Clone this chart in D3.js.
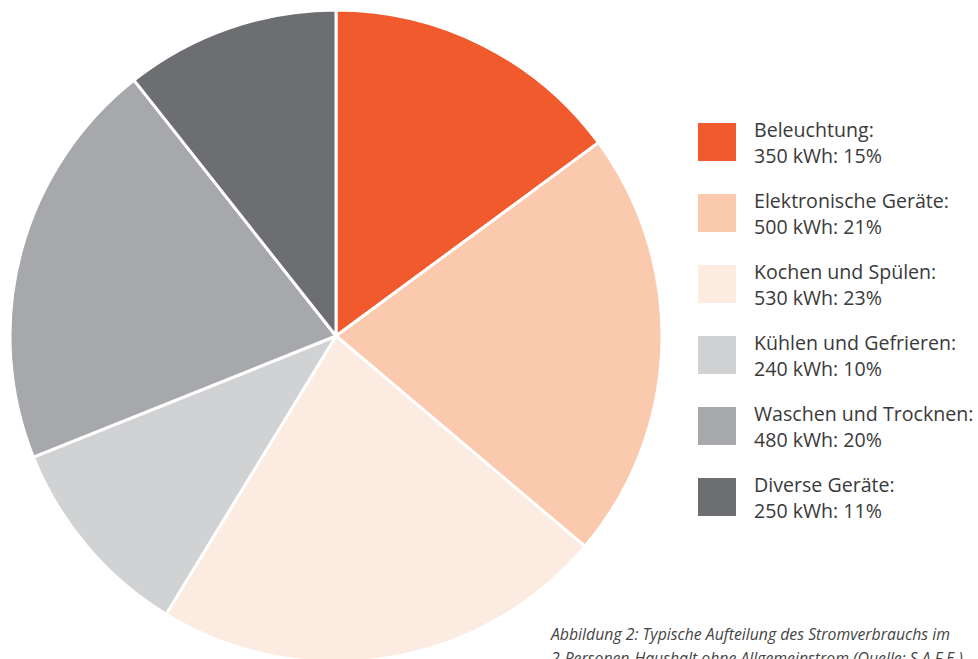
<!DOCTYPE html>
<html>
<head>
<meta charset="utf-8">
<script src="https://cdn.jsdelivr.net/npm/d3@7"></script>
<style>
  body { margin: 0; background: #fff; }
  svg { display: block; }
</style>
</head>
<body>
<div id="chart"></div>
<script>
const width = 978, height = 659;

// data
const categories = ["Beleuchtung", "Elektronische Geräte", "Kochen und Spülen", "Kühlen und Gefrieren", "Waschen und Trocknen", "Diverse Geräte"];
const kwh = [350, 500, 530, 240, 480, 250];
const percents = [15, 21, 23, 10, 20, 11];
const colors = ["#f15a2c", "#fbc9ae", "#fcebe1", "#d1d2d4", "#a7a8ac", "#6d6e72"];
const captionLines = ["Abbildung 2: Typische Aufteilung des Stromverbrauchs im", "2-Personen-Haushalt ohne Allgemeinstrom (Quelle: S.A.F.E.)"];

const data = categories.map((c, i) => ({ name: c, value: kwh[i], pct: percents[i], color: colors[i] }));

const cx = 336, cy = 336, radius = 326;

const svg = d3.select("#chart")
  .append("svg")
  .attr("width", width)
  .attr("height", height)
  .attr("viewBox", [0, 0, width, height]);

const pie = d3.pie().sort(null).value(d => d.value);
const arc = d3.arc().innerRadius(0).outerRadius(radius);

svg.append("g")
  .attr("transform", `translate(${cx},${cy})`)
  .selectAll("path")
  .data(pie(data))
  .join("path")
  .attr("d", arc)
  .attr("fill", d => d.data.color)
  .attr("stroke", "#fff")
  .attr("stroke-width", 3)
  .attr("stroke-linejoin", "round");

// legend
const legend = svg.append("g")
  .attr("font-family", "'Open Sans', 'Noto Sans', sans-serif")
  .attr("font-size", 19.6)
  .attr("fill", "#3a3a3a");

const item = legend.selectAll("g")
  .data(data)
  .join("g")
  .attr("transform", (d, i) => `translate(698,${123 + i * 71})`);

item.append("rect")
  .attr("width", 38)
  .attr("height", 38)
  .attr("fill", d => d.color);

item.append("text")
  .attr("x", 56)
  .attr("y", 14)
  .text(d => d.name + ":");

item.append("text")
  .attr("x", 56)
  .attr("y", 40)
  .text(d => `${d.value} kWh: ${d.pct}%`);

// caption
svg.append("g")
  .attr("font-family", "'Open Sans', 'Noto Sans', sans-serif")
  .attr("font-size", 15.8)
  .attr("font-style", "italic")
  .attr("fill", "#444")
  .selectAll("text")
  .data(captionLines)
  .join("text")
  .attr("x", 551)
  .attr("y", (d, i) => 640 + i * 24)
  .text(d => d);
</script>
</body>
</html>
